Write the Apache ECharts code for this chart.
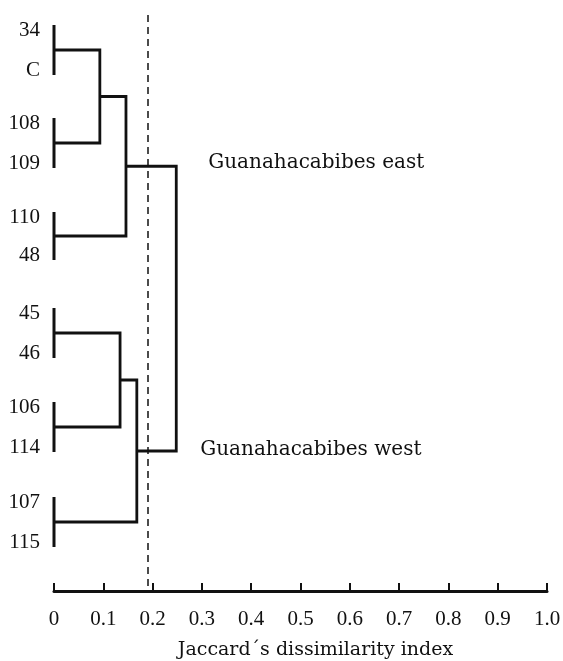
<!DOCTYPE html>
<html>
<head>
<meta charset="utf-8">
<script src="https://cdn.jsdelivr.net/npm/echarts@6/dist/echarts.min.js"></script>
<style>html,body{margin:0;padding:0;background:#fff}#c{width:563px;height:661px}</style>
</head>
<body>
<div id="c"></div>
<script>
// Leaves (top to bottom) and their row positions
const leaves = ['34', 'C', '108', '109', '110', '48', '45', '46', '106', '114', '107', '115'];
const leafRow = [0, 1, 2.325, 3.325, 4.675, 5.625, 7.075, 8.075, 9.425, 10.425, 11.8, 12.8];
// Merges: node ids 0-11 are leaves, merge k creates node 12+k
const mergeLeft = [0, 2, 4, 6, 8, 10, 12, 18, 15, 20, 19];
const mergeRight = [1, 3, 5, 7, 9, 11, 13, 14, 16, 17, 21];
const mergeHeight = [0, 0, 0, 0, 0, 0, 0.093, 0.146, 0.134, 0.168, 0.248];
// Cut-off line
const cutLevel = 0.188;
// Group labels (attached to the two top clusters)
const groupNames = ['Guanahacabibes east', 'Guanahacabibes west'];
const groupNodes = [19, 21];
// Axis
const xTicks = [0, 0.1, 0.2, 0.3, 0.4, 0.5, 0.6, 0.7, 0.8, 0.9, 1.0];
const xTickLabels = ['0', '0.1', '0.2', '0.3', '0.4', '0.5', '0.6', '0.7', '0.8', '0.9', '1.0'];
const xTitle = 'Jaccard\u00b4s dissimilarity index';

// Build node positions
const nodeY = leafRow.slice();
const nodeH = leafRow.map(() => 0);
const parentH = {};
const segData = [];
for (let k = 0; k < mergeLeft.length; k++) {
  const a = mergeLeft[k], b = mergeRight[k], h = mergeHeight[k];
  segData.push([nodeH[a], nodeY[a], h, nodeY[b], nodeH[b]]);
  parentH[a] = h; parentH[b] = h;
  nodeY.push((nodeY[a] + nodeY[b]) / 2);
  nodeH.push(h);
}

const groupOffsets = [[32, -3], [24, -1]];

const chart = echarts.init(document.getElementById('c'), null, {renderer: 'canvas'});
chart.setOption({
  backgroundColor: '#fff',
  animation: false,
  grid: {left: 54, right: 16, top: 15, bottom: 70, outerBoundsMode: 'none', containLabel: false},
  xAxis: {
    type: 'value', min: 0, max: 1, interval: 0.1, position: 'bottom',
    axisLine: {show: true, onZero: false, lineStyle: {color: '#111', width: 3}},
    axisTick: {show: true, inside: true, length: 8, lineStyle: {color: '#111', width: 2}},
    splitLine: {show: false},
    axisLabel: {
      margin: 18, color: '#111', fontFamily: 'Liberation Serif', fontSize: 21,
      formatter: v => { const i = xTicks.findIndex(t => Math.abs(t - v) < 1e-6); return i >= 0 ? xTickLabels[i] : ''; }
    },
    name: xTitle, nameLocation: 'middle', nameGap: 50,
    nameTextStyle: {color: '#111', fontFamily: 'DejaVu Serif', fontSize: 19, padding: [0, 0, 0, 30]}
  },
  yAxis: {
    type: 'value', inverse: true, min: -0.375, max: 14.025,
    show: false, splitLine: {show: false}
  },
  series: [
    {
      type: 'custom',
      coordinateSystem: 'cartesian2d',
      encode: {x: [0, 2, 4], y: [1, 3]},
      data: segData,
      renderItem: function (params, api) {
        const p1 = api.coord([api.value(0), api.value(1)]);
        const p2 = api.coord([api.value(2), api.value(1)]);
        const p3 = api.coord([api.value(2), api.value(3)]);
        const p4 = api.coord([api.value(4), api.value(3)]);
        if (api.value(2) === 0) {
          return {
            type: 'line',
            shape: {x1: p2[0], y1: p2[1] - 5, x2: p3[0], y2: p3[1] + 5},
            style: {stroke: '#111', lineWidth: 3}
          };
        }
        return {
          type: 'polyline',
          shape: {points: [p1, p2, p3, p4]},
          style: {stroke: '#111', lineWidth: 2.8, fill: null}
        };
      },
      markLine: {
        silent: true, symbol: 'none',
        label: {show: false},
        lineStyle: {color: '#111', width: 1.5, type: [7, 5]},
        data: [{xAxis: cutLevel}]
      },
      z: 3
    },
    {
      type: 'custom',
      coordinateSystem: 'cartesian2d',
      data: leaves.map((n, i) => [0, leafRow[i], i]),
      renderItem: function (params, api) {
        const p = api.coord([api.value(0), api.value(1)]);
        return {
          type: 'text',
          x: p[0] - 14, y: p[1],
          style: {
            text: leaves[api.value(2)], fill: '#111', font: '21px "Liberation Serif"',
            align: 'right', verticalAlign: 'middle'
          }
        };
      }
    },
    {
      type: 'custom',
      coordinateSystem: 'cartesian2d',
      data: groupNames.map((n, i) => [parentH[groupNodes[i]], nodeY[groupNodes[i]], i]),
      renderItem: function (params, api) {
        const p = api.coord([api.value(0), api.value(1)]);
        const i = api.value(2);
        return {
          type: 'text',
          x: p[0] + groupOffsets[i][0], y: p[1] + groupOffsets[i][1],
          style: {
            text: groupNames[i], fill: '#111', font: '20px "DejaVu Serif"',
            align: 'left', verticalAlign: 'middle'
          }
        };
      }
    }
  ]
});
</script>
</body>
</html>
